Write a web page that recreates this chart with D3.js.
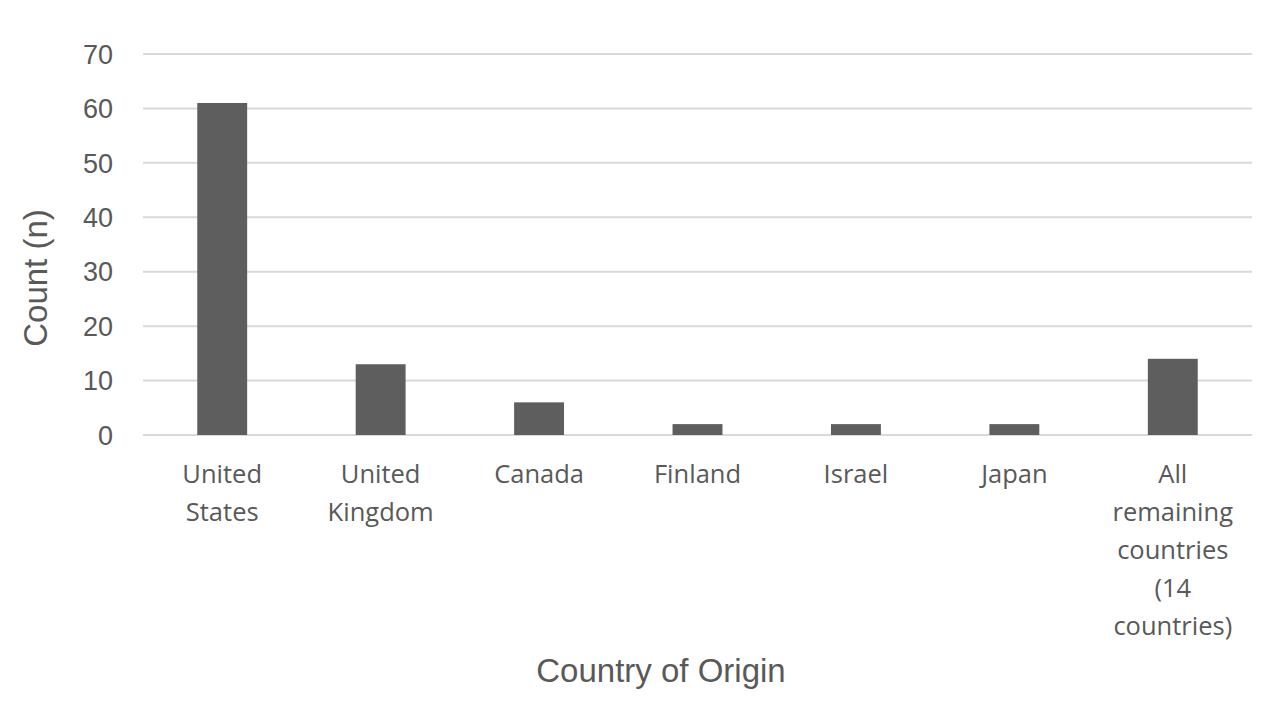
<!DOCTYPE html>
<html>
<head>
<meta charset="utf-8">
<script src="https://cdn.jsdelivr.net/npm/d3@7"></script>
<style>
  body { margin: 0; background: #fff; }
</style>
</head>
<body>
<div id="chart"></div>
<script>
// Chart data
const categories = ["United States", "United Kingdom", "Canada", "Finland", "Israel", "Japan", "All remaining countries (14 countries)"];
const categoryLines = [["United", "States"], ["United", "Kingdom"], ["Canada"], ["Finland"], ["Israel"], ["Japan"], ["All", "remaining", "countries", "(14", "countries)"]];
const counts = [61, 13, 6, 2, 2, 2, 14];
const yTicks = [0, 10, 20, 30, 40, 50, 60, 70];

const width = 1278, height = 706;
const margin = { left: 143, right: 26, top: 54, bottom: 271 };

const svg = d3.select("#chart")
  .append("svg")
    .attr("width", width)
    .attr("height", height);

// Scales
const x = d3.scaleBand()
  .domain(categories)
  .range([margin.left, width - margin.right])
  .paddingInner(0.685)
  .paddingOuter(0.3425);

const y = d3.scaleLinear()
  .domain([0, 70])
  .range([height - margin.bottom, margin.top]);

// Gridlines
svg.append("g")
  .selectAll("line")
  .data(yTicks)
  .enter().append("line")
    .attr("x1", margin.left)
    .attr("x2", width - margin.right)
    .attr("y1", d => y(d))
    .attr("y2", d => y(d))
    .attr("stroke", "#d9d9d9")
    .attr("stroke-width", 2);

// Y tick labels
svg.append("g")
  .selectAll("text")
  .data(yTicks)
  .enter().append("text")
    .attr("x", 113)
    .attr("y", d => y(d))
    .attr("dy", "0.36em")
    .attr("text-anchor", "end")
    .style("font-family", "'Liberation Sans', Arial, sans-serif")
    .style("font-size", "27px")
    .style("fill", "#595959")
    .text(d => d);

// Bars
svg.append("g")
  .selectAll("rect")
  .data(counts)
  .enter().append("rect")
    .attr("x", (d, i) => x(categories[i]))
    .attr("width", x.bandwidth())
    .attr("y", d => y(d))
    .attr("height", d => y(0) - y(d))
    .attr("fill", "#5e5e5e");

// Category labels
const catGroup = svg.append("g")
  .selectAll("text")
  .data(categories)
  .enter().append("text")
    .attr("text-anchor", "middle")
    .style("font-family", "'Open Sans', sans-serif")
    .style("font-size", "25.5px")
    .style("fill", "#595959");

catGroup.each(function(d, i) {
  const t = d3.select(this);
  categoryLines[i].forEach((line, j) => {
    t.append("tspan")
      .attr("x", x(d) + x.bandwidth() / 2)
      .attr("y", 483 + j * 38)
      .text(line);
  });
});

// Axis titles
svg.append("text")
  .attr("transform", "translate(47,278) rotate(-90)")
  .attr("text-anchor", "middle")
  .style("font-family", "'Liberation Sans', Arial, sans-serif")
  .style("font-size", "33px")
  .style("fill", "#595959")
  .text("Count (n)");

svg.append("text")
  .attr("x", 661)
  .attr("y", 682)
  .attr("text-anchor", "middle")
  .style("font-family", "'Liberation Sans', Arial, sans-serif")
  .style("font-size", "33px")
  .style("fill", "#595959")
  .text("Country of Origin");
</script>
</body>
</html>
